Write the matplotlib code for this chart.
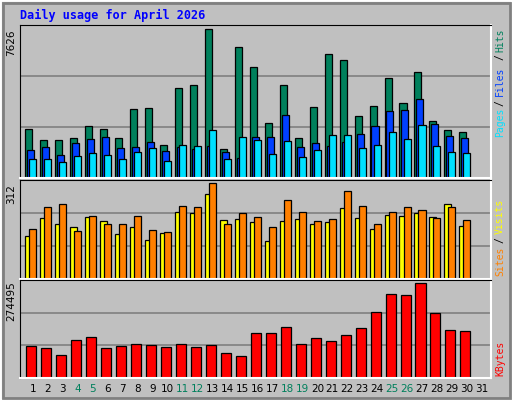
import matplotlib
matplotlib.use("Agg")
import matplotlib.pyplot as plt
from matplotlib.patches import Rectangle
import numpy as np

days = list(range(1, 31))
day_labels = [str(d) for d in range(1, 32)]
weekend_days = [4, 5, 11, 12, 18, 19, 25, 26]

hits = [2490, 1970, 1970, 2075, 2645, 2490, 2075, 3530, 3580, 1710,
        4620, 4770, 7626, 1505, 6745, 5705, 2800, 4770, 2075, 3630,
        6380, 6070, 3165, 3685, 5135, 3840, 5450, 2905, 2440, 2385]
files = [1453, 1609, 1194, 1817, 2024, 2128, 1557, 1609, 1868, 1401,
         1609, 1505, 1661, 1349, 1038, 2128, 2128, 3218, 1609, 1817,
         1661, 1868, 2284, 2647, 3425, 3477, 4048, 2751, 2180, 2076]
pages = [986, 986, 830, 1142, 1298, 1194, 986, 1349, 1557, 882,
         1713, 1661, 2439, 986, 2128, 1972, 1246, 1920, 1090, 1453,
         2232, 2232, 1557, 1713, 2336, 2024, 2699, 1661, 1349, 1298]
visits = [140, 197, 177, 170, 200, 187, 146, 170, 126, 150,
          217, 214, 275, 190, 194, 184, 123, 187, 194, 177,
          184, 231, 197, 163, 207, 204, 214, 200, 244, 173]
sites = [163, 234, 244, 157, 204, 180, 180, 204, 160, 153,
         238, 234, 312, 177, 214, 200, 170, 255, 217, 187,
         194, 285, 238, 177, 217, 234, 224, 197, 234, 190]
kbytes = [92170, 86150, 65120, 109200, 119210, 86150, 92170, 97170, 95170, 89160,
          97170, 89160, 95170, 73130, 62110, 130230, 130230, 146260, 97170, 116210,
          107190, 125220, 143250, 190340, 241430, 238430, 274495, 187330, 139250, 136240]

BG = "#C0C0C0"
MONO = "DejaVu Sans Mono"
W, H = 512, 400

fig = plt.figure(figsize=(W / 100, H / 100), dpi=100, facecolor=BG)

# bevel border
fig.patches.append(Rectangle((0, 0), 1, 1, transform=fig.transFigure,
                             fill=False, edgecolor="white", linewidth=2))
fig.patches.append(Rectangle((3 / W, 2 / H), (W - 5) / W, (H - 5) / H,
                             transform=fig.transFigure, fill=False,
                             edgecolor="#808080", linewidth=2))


def make_ax(top, bottom):
    ax = fig.add_axes([20 / W, 1 - bottom / H, 471 / W, (bottom - top) / H])
    ax.set_facecolor(BG)
    ax.set_xlim(0.132, 31.6)
    ax.set_xticks([])
    ax.set_yticks([])
    for s in ["top", "left"]:
        ax.spines[s].set_color("black")
    for s in ["bottom", "right"]:
        ax.spines[s].set_color("white")
        ax.spines[s].set_linewidth(1.5)
    return ax


def grid(ax, vmax):
    for f in (1 / 3, 2 / 3):
        ax.axhline(vmax * f, color="#808080", linewidth=1.2, zorder=0)


x = np.array(days)
ek = dict(edgecolor="black", linewidth=0.9, zorder=2)

ax1 = make_ax(25, 178)
ax1.set_ylim(0, max(hits) * 1.03)
grid(ax1, max(hits) * 1.03)
ax1.bar(x - 0.28, hits, width=0.47, color="#00805C", **ek)
ax1.bar(x - 0.15, files, width=0.47, color="#0040FF", **ek)
ax1.bar(x - 0.01, pages, width=0.47, color="#00E0FF", **ek)

ax2 = make_ax(180, 279)
ax2.set_ylim(0, max(sites) * 1.03)
grid(ax2, max(sites) * 1.03)
ax2.bar(x - 0.28, visits, width=0.47, color="#FFFF00", **ek)
ax2.bar(x - 0.01, sites, width=0.47, color="#FF8000", **ek)

ax3 = make_ax(280, 378)
ax3.set_ylim(0, max(kbytes) * 1.03)
grid(ax3, max(kbytes) * 1.03)
ax3.bar(x - 0.11, kbytes, width=0.67, color="#FF0000", **ek)

# day labels
for i, lab in enumerate(day_labels):
    col = "#00805C" if (i + 1) in weekend_days else "black"
    ax3.text(i + 1, -0.06, lab, transform=ax3.get_xaxis_transform(),
             ha="center", va="top", fontsize=7.5, color=col, family="DejaVu Sans")

# max labels
for ypix, txt in [(29, "7626"), (184, "312"), (281, "274495")]:
    fig.text(11 / W, 1 - ypix / H, txt, rotation=90, ha="center", va="top",
             fontsize=7.5, family="DejaVu Sans")

fig.text(20 / W, 1 - 15 / H, "Daily usage for April 2026", color="#0000FF",
         fontsize=8.5, fontweight="bold", family=MONO, va="center")

side = [(40, "Hits", "#00805C"), (57, "/", "black"), (81, "Files", "#0040FF"),
        (103, "/", "black"), (122, "Pages", "#00E0FF"),
        (216, "Visits", "#FFFF00"), (240, "/", "black"), (261, "Sites", "#FF8000"),
        (358, "KBytes", "#FF0000")]
for ypix, txt, col in side:
    fig.text(500 / W, 1 - ypix / H, txt, rotation=90, ha="center", va="center",
             fontsize=7, color=col, family=MONO)

fig.savefig("out.png", dpi=100, facecolor=BG)
